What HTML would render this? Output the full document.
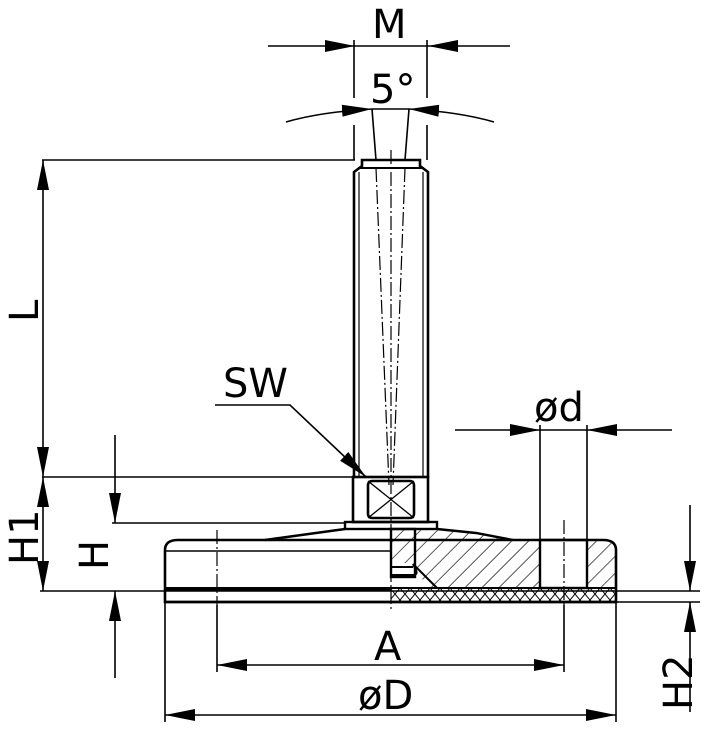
<!DOCTYPE html>
<html><head><style>html,body{margin:0;padding:0;background:#fff}svg{display:block}text{font-family:"DejaVu Sans","Liberation Sans",sans-serif;font-size:40px;fill:#000}</style></head><body>
<svg width="711" height="733" viewBox="0 0 711 733" xmlns="http://www.w3.org/2000/svg">
<defs>
<marker id="a" markerWidth="30" markerHeight="12" refX="30" refY="6" orient="auto" markerUnits="userSpaceOnUse"><path d="M0,0 L30,6 L0,12 z"/></marker>
<pattern id="h" width="12" height="12" patternUnits="userSpaceOnUse" patternTransform="rotate(45)"><line x1="0" y1="0" x2="0" y2="12" stroke="#000" stroke-width="1.3"/></pattern>
<pattern id="x" width="10" height="12" patternUnits="userSpaceOnUse"><path d="M0,0 L10,12 M10,0 L0,12" stroke="#000" stroke-width="1"/></pattern>
</defs>
<g stroke="#000" fill="none" stroke-width="1.6">
<!-- M -->
<line x1="268" y1="46" x2="355" y2="46" marker-end="url(#a)"/>
<line x1="510" y1="46" x2="428" y2="46" marker-end="url(#a)"/>
<line x1="355" y1="46" x2="428" y2="46"/>
<line x1="354" y1="40" x2="354" y2="98"/><line x1="427" y1="40" x2="427" y2="98"/>
<line x1="354" y1="125" x2="354" y2="160"/><line x1="427" y1="125" x2="427" y2="160"/>
<!-- 5 deg -->
<path d="M286,122 Q320,112 372,109" marker-end="url(#a)"/>
<path d="M494,122 Q460,112 409,109" marker-end="url(#a)"/>
<line x1="372" y1="109" x2="409" y2="109"/>
<line x1="372" y1="109" x2="376" y2="160"/><line x1="409" y1="109" x2="405" y2="160"/>
<!-- shaft -->
<path d="M354,478 V172 L362,166 V160 H420 V166 L428,172 V478" stroke-width="2.6"/>
<line x1="358" y1="168" x2="424" y2="168" stroke-width="2"/>
<line x1="359" y1="172" x2="359" y2="478" stroke-width="1.2"/>
<line x1="423" y1="172" x2="423" y2="478" stroke-width="1.2"/>
<g stroke-dasharray="14,3,2,3" stroke-width="1.2">
<line x1="376" y1="168" x2="389" y2="485"/><line x1="405" y1="168" x2="393" y2="485"/>
<line x1="391" y1="150" x2="391" y2="610"/>
<line x1="217" y1="530" x2="217" y2="605"/><line x1="564" y1="520" x2="564" y2="605"/>
</g>
<!-- hex/square -->
<rect x="353" y="477" width="75" height="45" stroke-width="2.6"/>
<rect x="368" y="481" width="46" height="37" rx="4" stroke-width="2.6"/>
<path d="M368,481 L414,518 M414,481 L368,518" stroke-width="1.3"/>
<rect x="345" y="522" width="92" height="7" stroke-width="2.4"/>
<!-- base -->
<path d="M165,602 V550 Q165,540 178,540 H603 Q616,540 616,550 V602 Z" stroke-width="2.6"/>
<path d="M415,540 L437,529 L476,533 L513,540 H540 V588 H430 L408,563 H391 V529 H437" fill="url(#h)" stroke="none"/>
<path d="M587,540 H603 Q616,540 616,550 V588 H587 Z" fill="url(#h)" stroke="none"/>
<path d="M265,540 L345,529 M437,529 L476,533 L513,540" stroke-width="2.4"/>
<line x1="165" y1="551" x2="391" y2="551" stroke-width="1.6"/>
<rect x="391" y="529" width="24" height="48" stroke-width="2.4"/>
<path d="M391,567 H413 M391,575 H413 Q418,575 416,570 L413,564 L437,588" stroke-width="2"/>
<rect x="540" y="540" width="47" height="48" stroke-width="2.4"/>
<line x1="165" y1="589" x2="391" y2="589" stroke-width="4"/>
<line x1="391" y1="588" x2="616" y2="588" stroke-width="2"/>
<rect x="391" y="589" width="225" height="13" fill="url(#x)" stroke="none"/>
<line x1="165" y1="602" x2="616" y2="602" stroke-width="2.4"/>
<!-- L -->
<line x1="42" y1="160" x2="355" y2="160"/>
<line x1="42" y1="477" x2="353" y2="477"/>
<line x1="43" y1="300" x2="43" y2="160" marker-end="url(#a)"/>
<line x1="43" y1="300" x2="43" y2="477" marker-end="url(#a)"/>
<!-- H1 -->
<line x1="43" y1="530" x2="43" y2="477" marker-end="url(#a)"/>
<line x1="43" y1="530" x2="43" y2="591" marker-end="url(#a)"/>
<line x1="40" y1="591" x2="700" y2="591"/>
<!-- H -->
<line x1="112" y1="523" x2="345" y2="523"/>
<line x1="115" y1="435" x2="115" y2="523" marker-end="url(#a)"/>
<line x1="115" y1="678" x2="115" y2="591" marker-end="url(#a)"/>
<!-- H2 -->
<line x1="690" y1="505" x2="690" y2="591" marker-end="url(#a)"/>
<line x1="690" y1="712" x2="690" y2="602" marker-end="url(#a)"/>
<line x1="616" y1="602" x2="700" y2="602"/>
<!-- verticals down -->
<line x1="165" y1="602" x2="165" y2="722"/><line x1="616" y1="602" x2="616" y2="722"/>
<line x1="217" y1="605" x2="217" y2="672"/><line x1="564" y1="605" x2="564" y2="672"/>
<line x1="540" y1="425" x2="540" y2="540"/><line x1="587" y1="425" x2="587" y2="540"/>
<!-- A -->
<line x1="390" y1="665" x2="217" y2="665" marker-end="url(#a)"/>
<line x1="390" y1="665" x2="564" y2="665" marker-end="url(#a)"/>
<!-- D -->
<line x1="390" y1="715" x2="165" y2="715" marker-end="url(#a)"/>
<line x1="390" y1="715" x2="616" y2="715" marker-end="url(#a)"/>
<!-- d -->
<line x1="455" y1="430" x2="540" y2="430" marker-end="url(#a)"/>
<line x1="672" y1="430" x2="587" y2="430" marker-end="url(#a)"/>
<line x1="540" y1="430" x2="587" y2="430"/>
<!-- SW -->
<polyline points="215,405 290,405 366,477" marker-end="url(#a)"/>
</g>
<text x="372" y="38">M</text>
<text x="370" y="103">5°</text>
<text x="223" y="397">SW</text>
<text x="534" y="421">ød</text>
<text x="374" y="660">A</text>
<text x="358" y="709">øD</text>
<text transform="translate(38,322) rotate(-90)">L</text>
<text transform="translate(38,565) rotate(-90)">H1</text>
<text transform="translate(108,570) rotate(-90)">H</text>
<text transform="translate(692,710) rotate(-90)">H2</text>
</svg>
</body></html>
